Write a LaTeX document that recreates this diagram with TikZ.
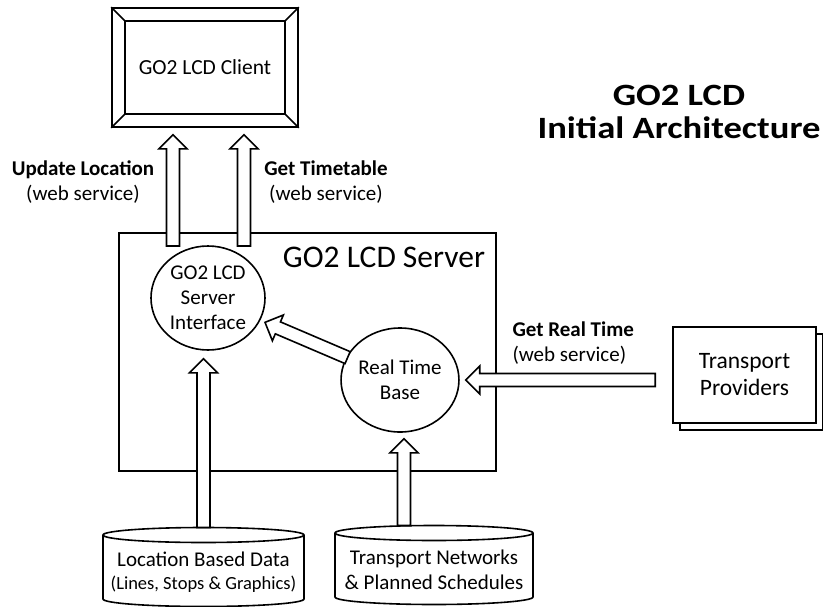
\documentclass[tikz,border=0pt]{standalone}
\usepackage{fontspec}
\setmainfont{Carlito}
\usetikzlibrary{calc,shapes.geometric,shadows}

\tikzset{
  thickline/.style={line width=1.6pt},
  procnode/.style={ellipse, draw, thickline, minimum width=114pt, minimum height=104pt,
    inner sep=0pt, align=center, font=\fontsize{21}{25}\selectfont},
  fatarrow/.style={draw, fill=white, thickline, line join=miter},
  labeltext/.style={align=center, font=\fontsize{21}{25}\selectfont},
}

% hollow block arrow from #1 to #2
\newcommand{\hollowarrow}[2]{%
  \coordinate (ha-s) at (#1);
  \coordinate (ha-t) at (#2);
  \coordinate (ha-h) at ($(ha-t)!14pt!(ha-s)$);
  \draw[fatarrow] ($(ha-s)!6.5pt!90:(ha-t)$) -- ($(ha-h)!6.5pt!90:(ha-t)$)
    -- ($(ha-h)!14pt!90:(ha-t)$) -- (ha-t) -- ($(ha-h)!14pt!-90:(ha-t)$)
    -- ($(ha-h)!6.5pt!-90:(ha-t)$) -- ($(ha-s)!6.5pt!-90:(ha-t)$) -- cycle;
}

\begin{document}
\begin{tikzpicture}[x=1pt, y=-1pt]
  \useasboundingbox (0,0) rectangle (823,606);

  % Client with bevelled frame
  \node[draw, thickline, minimum width=186pt, minimum height=119pt,
    font=\fontsize{21.5}{25}\selectfont] (client) at (205,67.5) {GO2 LCD Client};
  \draw[thickline] ($(client.north west)+(14,14)$) rectangle ($(client.south east)+(-14,-14)$);
  \foreach \c/\dx/\dy in {north west/14/14, north east/-14/14, south east/-14/-14, south west/14/-14}
    \draw[thickline] (client.\c) -- ++(\dx,\dy);

  % Title
  \node[font=\bfseries\fontsize{31}{33}\selectfont, align=center] (title) at (679,112)
    {\scalebox{1.18}[1]{GO2 LCD}\\\scalebox{1.18}[1]{Initial Architecture}};

  % Server and its parts
  \node[draw, thickline, minimum width=377pt, minimum height=238pt] (server) at (307.5,352) {};
  \node[font=\fontsize{31.5}{34}\selectfont] (servertitle) at (384,257) {GO2 LCD Server};
  \node[procnode] (iface) at (208,298) {GO2 LCD\\Server\\Interface};
  \node[procnode] (rtb) at (400,380) {Real Time\\Base};

  % Transport providers (stacked)
  \node[draw, thickline, fill=white, minimum width=143pt, minimum height=96pt, align=center,
    font=\fontsize{23.5}{27}\selectfont,
    copy shadow={shadow xshift=7pt, shadow yshift=-7pt, thickline}] (tp) at (744.5,375) {Transport\\Providers};

  % Data stores
  \node[align=center, font=\fontsize{21}{23}\selectfont] (locdata) at (203.5,572)
    {Location Based Data\\{\fontsize{18.5}{21}\selectfont (Lines, Stops \& Graphics)}};
  \node[align=center, font=\fontsize{21}{25}\selectfont] (netdata) at (434,570)
    {Transport Networks\\\& Planned Schedules};
  \foreach \n/\rx in {locdata/100.5, netdata/99} {
    \draw[thickline] ($(\n)+(0,-37)$) ellipse [x radius=\rx pt, y radius=7.5pt];
    \draw[thickline] ($(\n)+(-\rx,-37)$) -- ($(\n)+(-\rx,27)$)
      arc[start angle=180, end angle=360, x radius=\rx pt, y radius=7.5pt] -- ($(\n)+(\rx,-37)$);
    \coordinate (\n-top) at ($(\n)+(0,-44.5)$);
  }

  % Arrows
  \coordinate (updA) at (173,246);
  \coordinate (getT) at (244,246);
  \hollowarrow{updA}{$(updA |- client.south)+(0,7)$}
  \hollowarrow{getT}{$(getT |- client.south)+(0,7)$}
  \hollowarrow{$(rtb)!57pt!(iface)$}{$(iface)!62pt!(rtb)$}
  \hollowarrow{$(tp.west |- rtb)+(-17,0)$}{$(rtb.east)+(6,0)$}
  \hollowarrow{locdata-top}{$(locdata-top |- iface.south)+(0,8)$}
  \hollowarrow{$(rtb.south |- netdata-top)+(4,0)$}{$(rtb.south)+(4,6)$}

  % Labels
  \node[labeltext] (updlabel) at (83,182.5) {\textbf{Update Location}\\(web service)};
  \node[labeltext] (ttlabel) at (326,182.5) {\textbf{Get Timetable}\\(web service)};
  \node[labeltext, align=left, anchor=west] (rtlabel) at (509,343.5) {\textbf{Get Real Time}\\(web service)};
\end{tikzpicture}
\end{document}
